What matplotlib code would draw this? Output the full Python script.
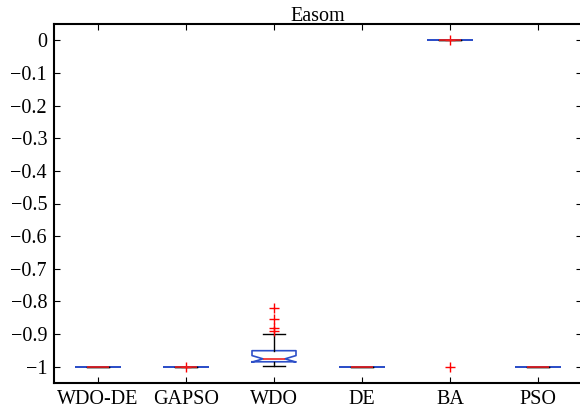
import matplotlib
matplotlib.use('Agg')
import matplotlib.pyplot as plt

# Box statistics
labels = ['WDO-DE', 'GAPSO', 'WDO', 'DE', 'BA', 'PSO']
medians = [-1.0, -1.0, -0.976, -1.0, 0.0, -1.0]
q1 = [-1.0, -1.0, -0.985, -1.0, 0.0, -1.0]
q3 = [-1.0, -1.0, -0.951, -1.0, 0.0, -1.0]
whislo = [-1.0, -1.0, -0.997, -1.0, 0.0, -1.0]
whishi = [-1.0, -1.0, -0.900, -1.0, 0.0, -1.0]
cilo = [-1.0, -1.0, -0.986, -1.0, 0.0, -1.0]
cihi = [-1.0, -1.0, -0.966, -1.0, 0.0, -1.0]
fliers = [[], [-0.9995], [-0.821, -0.855, -0.883, -0.890], [], [0.0, -1.0], []]

stats = []
for i, lab in enumerate(labels):
    stats.append(dict(label=lab, med=medians[i], q1=q1[i], q3=q3[i],
                      whislo=whislo[i], whishi=whishi[i],
                      cilo=cilo[i], cihi=cihi[i], fliers=fliers[i]))

plt.rcParams['font.family'] = ['Liberation Serif', 'DejaVu Serif']

fig = plt.figure(figsize=(5.8, 4.17), dpi=100)
ax = fig.add_axes([54 / 580, 1 - 383 / 417, 528 / 580, 359 / 417])

blue = '#2d4fc8'
ax.bxp(stats, positions=range(1, 7), widths=0.5, shownotches=True, showfliers=True,
       boxprops=dict(color=blue, linewidth=1.2),
       medianprops=dict(color='#ee2222', linewidth=1.2),
       whiskerprops=dict(color='black', linewidth=1.0),
       capprops=dict(color='black', linewidth=1.0),
       flierprops=dict(marker='+', markeredgecolor='red', markersize=7,
                       markeredgewidth=1.0, linestyle='none'))

ax.set_xlim(0.5, 6.5)
ax.set_ylim(-1.05, 0.05)
ax.set_yticks([-1.0, -0.9, -0.8, -0.7, -0.6, -0.5, -0.4, -0.3, -0.2, -0.1, 0.0])
ax.set_yticklabels(['\u22121', '\u22120.9', '\u22120.8', '\u22120.7', '\u22120.6',
                    '\u22120.5', '\u22120.4', '\u22120.3', '\u22120.2', '\u22120.1', '0'])
ax.tick_params(direction='in', top=True, right=True, length=4, width=0.8,
               labelsize=14.5, pad=5)
for s in ax.spines.values():
    s.set_linewidth(1.5)
ax.set_title('Easom', fontsize=14.5, pad=2)

fig.savefig('out.png', dpi=100)
